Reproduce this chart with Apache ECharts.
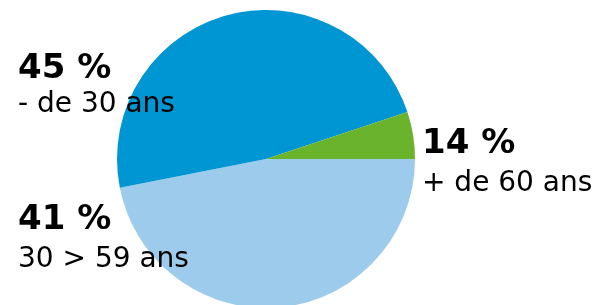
<!DOCTYPE html>
<html>
<head>
<meta charset="utf-8">
<script src="https://cdn.jsdelivr.net/npm/echarts@6/dist/echarts.min.js"></script>
<style>
  html, body { margin: 0; padding: 0; background: #fff; }
  #main { width: 601px; height: 305px; }
</style>
</head>
<body>
<div id="main"></div>
<script>
// tranches d'âge, dans l'ordre de tracé (sens horaire depuis 3 h)
const categories = ['30 > 59 ans', '- de 30 ans', '+ de 60 ans'];
// parts d'angle
const sliceValues = [46.9, 48.0, 5.1];
// pourcentages affichés
const percentLabels = ['41 %', '45 %', '14 %'];
const colors = ['#9dcbec', '#0095d3', '#6ab42d'];

const chart = echarts.init(document.getElementById('main'));

// position des étiquettes : x, haut du pourcentage, haut du sous-titre
const labelPos = [[18, 203, 246], [18, 52, 91], [422, 127, 170]];

const graphics = [];
categories.forEach((c, i) => {
  const [x, y1, y2] = labelPos[i];
  graphics.push({
    type: 'text', left: x, top: y1, z: 10,
    style: { text: percentLabels[i], font: 'bold 34px "DejaVu Sans"', fill: '#000' }
  });
  graphics.push({
    type: 'text', left: x, top: y2, z: 10,
    style: { text: c, font: '28px "DejaVu Sans"', fill: '#000' }
  });
});

chart.setOption({
  animation: false,
  graphic: graphics,
  series: [{
    type: 'pie',
    center: [266, 159],
    radius: 149,
    startAngle: 0,
    clockwise: true,
    label: { show: false },
    labelLine: { show: false },
    itemStyle: { borderWidth: 0 },
    emphasis: { disabled: true },
    data: categories.map((c, i) => ({
      name: c, value: sliceValues[i], itemStyle: { color: colors[i] }
    }))
  }]
});
</script>
</body>
</html>
